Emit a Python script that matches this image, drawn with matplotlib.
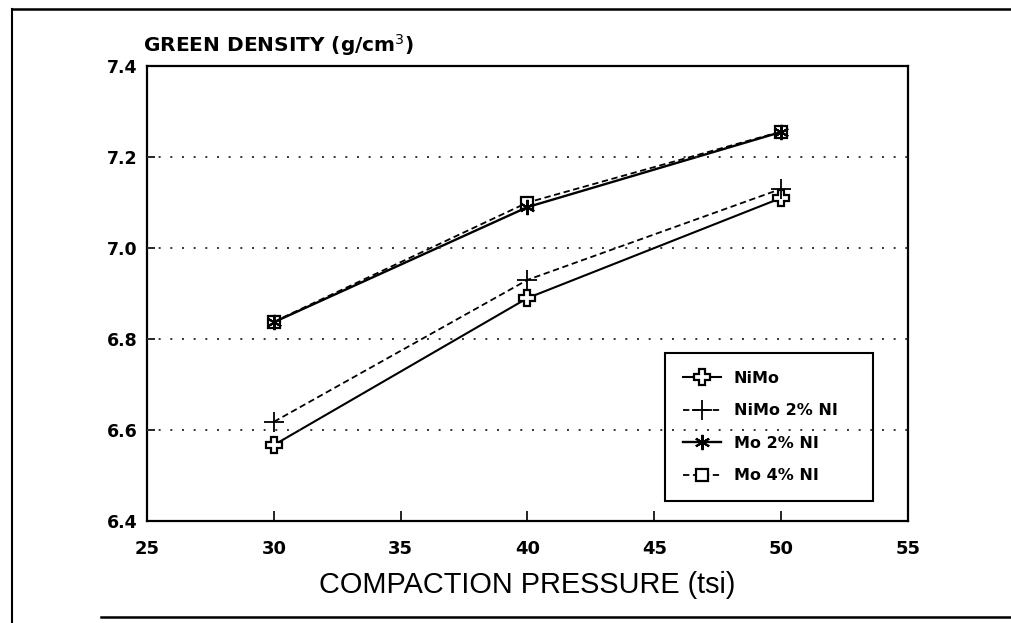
import matplotlib
matplotlib.use("Agg")
import matplotlib.pyplot as plt
from matplotlib.lines import Line2D

pressure = [30, 40, 50]
nimo = [6.567, 6.89, 7.11]
nimo_2ni = [6.618, 6.93, 7.13]
mo_2ni = [6.837, 7.09, 7.255]
mo_4ni = [6.838, 7.10, 7.256]
labels = ["NiMo", "NiMo 2% NI", "Mo 2% NI", "Mo 4% NI"]
xticks = [25, 30, 35, 40, 45, 50, 55]
yticks = [6.4, 6.6, 6.8, 7.0, 7.2, 7.4]
grid_levels = [6.6, 6.8, 7.0, 7.2]

plt.rcParams['font.family'] = ['Liberation Sans', 'DejaVu Sans']
BOLD = ['DejaVu Sans']

fig = plt.figure(figsize=(10.11, 6.23), dpi=100)
ax = fig.add_axes([0.1454, 0.1637, 0.7527, 0.7303])

ax.set_xlim(25, 55)
ax.set_ylim(6.4, 7.4)

for g in grid_levels:
    ax.axhline(g, color='#333333', linewidth=1.4, linestyle=(0, (1, 5)), zorder=8)

dash = (0, (3.5, 2))
ax.plot(pressure, nimo, color='black', lw=1.5, ls='-', marker='P', ms=11,
        mfc='white', mec='black', mew=1.6, label=labels[0], zorder=3)
ax.plot(pressure, nimo_2ni, color='black', lw=1.3, ls=dash, marker='+', ms=15,
        mec='black', mew=1.3, label=labels[1], zorder=3)
ax.plot(pressure, mo_4ni, color='black', lw=1.3, ls=dash, marker='s', ms=9,
        mfc='white', mec='black', mew=1.6, label=labels[3], zorder=4)
ax.plot(pressure, mo_2ni, color='black', lw=1.7, ls='-', marker=(6, 2, 0), ms=11,
        mec='black', mew=1.5, label=labels[2], zorder=5)

ax.set_xticks(xticks)
ax.set_yticks(yticks)
ax.set_xticklabels([str(v) for v in xticks], fontsize=13, fontweight='bold', family=BOLD)
ax.set_yticklabels([f"{v:.1f}" for v in yticks], fontsize=12.5, fontweight='bold', family=BOLD)
ax.tick_params(axis='x', direction='in', length=7, width=1.2, pad=14)
ax.tick_params(axis='y', direction='in', length=6, width=1.2, pad=7)
for s in ax.spines.values():
    s.set_linewidth(1.6)
    s.set_color('black')

ax.set_xlabel("COMPACTION PRESSURE (tsi)", fontsize=20.8, labelpad=9)
fig.text(143/1011, 1 - 45/623, "GREEN DENSITY (g/cm$^3$)", fontsize=14.5,
         fontweight='bold', family=BOLD, ha='left', va='center')

handles, labs = ax.get_legend_handles_labels()
order = [labs.index(l) for l in labels]
leg = ax.legend([handles[i] for i in order], [labs[i] for i in order],
                loc='upper left', bbox_to_anchor=(0.681, 0.04, 0.273, 0.329),
                mode='expand', frameon=True, fancybox=False,
                prop={'weight': 'bold', 'size': 11.5, 'family': BOLD}, handlelength=2.4,
                handletextpad=0.8, labelspacing=1.1, borderpad=1.1,
                borderaxespad=0)
frame = leg.get_frame()
frame.set_alpha(None)
frame.set_facecolor('white')
frame.set_edgecolor('black')
frame.set_linewidth(1.5)

# figure border lines (scanned frame)
fig.add_artist(Line2D([12/1011, 12/1011], [0, 1 - 9/623], color='black', lw=1.5,
                      transform=fig.transFigure))
fig.add_artist(Line2D([12/1011, 1], [1 - 9/623, 1 - 9/623], color='black', lw=1.8,
                      transform=fig.transFigure))
fig.add_artist(Line2D([0.1, 1], [1 - 617/623, 1 - 617/623], color='black', lw=1.8,
                      transform=fig.transFigure))

fig.savefig("out.png", dpi=100)
